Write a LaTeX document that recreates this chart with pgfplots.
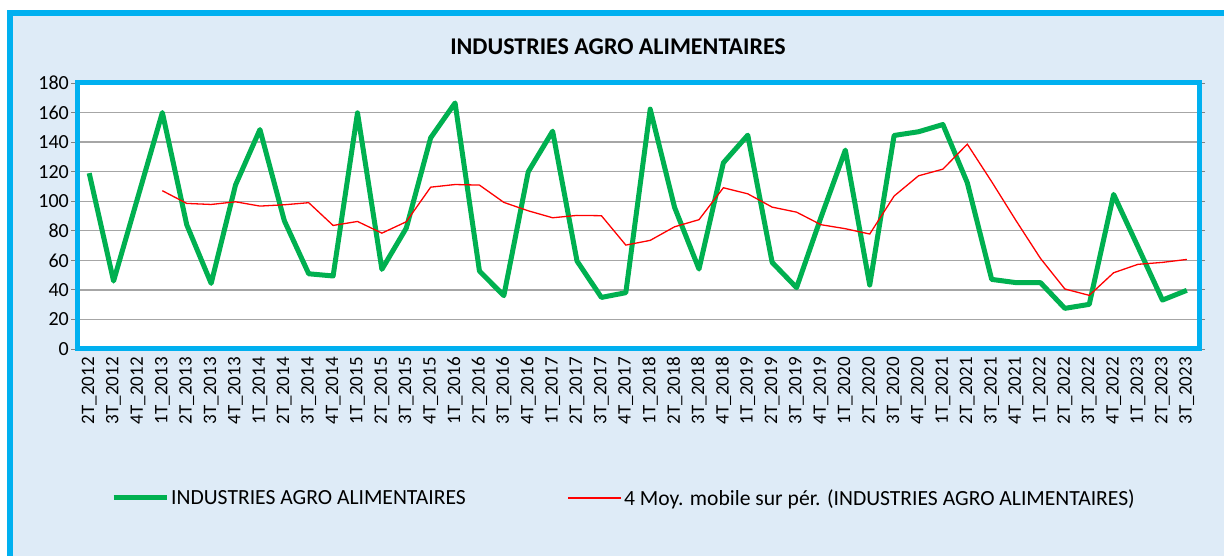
\documentclass[border=0pt]{standalone}
\usepackage{pgfplots}
\pgfplotsset{compat=1.18}
\usepackage{fontspec}
\setmainfont{Carlito}
\definecolor{bgblue}{HTML}{DEEBF7}
\definecolor{frame}{HTML}{00B0F0}
\definecolor{xlgreen}{HTML}{00B050}
\definecolor{gridgray}{HTML}{A6A6A6}
\begin{document}
\begin{tikzpicture}[x=1bp,y=1bp]
\useasboundingbox (0,0) rectangle (1224,556);
\fill[white] (0,0) rectangle (1224,556);
\fill[bgblue] (10.3,0) rectangle (1224,543);
\draw[frame,line width=6bp] (10.3,0) -- (10.3,543) -- (1224,543);
\node[font=\fontsize{24bp}{28bp}\selectfont\bfseries] at (618,509) {INDUSTRIES AGRO ALIMENTAIRES};
\begin{axis}[
  at={(77bp,207bp)}, anchor=south west,
  scale only axis, width=1122bp, height=266bp,
  xmin=-0.5, xmax=45.5, ymin=0, ymax=180,
  ytick={0,20,...,180},
  xtick={0,...,45},
  xticklabels={2T\_2012,3T\_2012,4T\_2012,1T\_2013,2T\_2013,3T\_2013,4T\_2013,1T\_2014,2T\_2014,3T\_2014,4T\_2014,1T\_2015,2T\_2015,3T\_2015,4T\_2015,1T\_2016,2T\_2016,3T\_2016,4T\_2016,1T\_2017,2T\_2017,3T\_2017,4T\_2017,1T\_2018,2T\_2018,3T\_2018,4T\_2018,1T\_2019,2T\_2019,3T\_2019,4T\_2019,1T\_2020,2T\_2020,3T\_2020,4T\_2020,1T\_2021,2T\_2021,3T\_2021,4T\_2021,1T\_2022,2T\_2022,3T\_2022,4T\_2022,1T\_2023,2T\_2023,3T\_2023},
  x tick label style={rotate=90, anchor=east, font=\fontsize{19bp}{22bp}\selectfont, inner sep=2bp},
  y tick label style={font=\fontsize{20bp}{24bp}\selectfont, inner sep=2bp},
  /pgf/number format/assume math mode=true,
  xtick style={draw=none},
  minor xtick={-0.5,0.5,...,45.5},
  minor tick length=6bp,
  major tick length=6bp,
  tick align=outside,
  ytick style={draw=gray, line width=0.8bp},
  minor tick style={draw=gray, line width=0.8bp},
  ymajorgrids, grid style={gridgray, line width=1.3bp},
  axis background/.style={fill=white},
  axis line style={draw=frame, line width=5bp},
  clip=false,
  legend style={at={(34bp,-149bp)}, anchor=west, draw=none, fill=none,
    font=\fontsize{21.6bp}{25bp}\selectfont, inner sep=0pt,
    /tikz/every even column/.append style={column sep=100bp},
    nodes={inner sep=2bp}},
  legend columns=2,
  legend image code/.code={\draw[#1] (0bp,0bp) -- (53bp,0bp);},
]
\addplot[xlgreen, line width=5bp, line join=round] coordinates {
(0,119) (1,46) (2,103) (3,160) (4,84) (5,44.4) (6,111) (7,148.5) (8,86.8) (9,50.9)
(10,49.4) (11,159.8) (12,53.9) (13,81.8) (14,142.9) (15,166.5) (16,52.7) (17,36.1) (18,119.9) (19,147.4)
(20,59.5) (21,34.9) (22,38.1) (23,162.3) (24,95.8) (25,54.1) (26,126) (27,144.7) (28,58.6) (29,41.5)
(30,89) (31,134.6) (32,43.3) (33,144.5) (34,147) (35,151.9) (36,112.5) (37,47.1) (38,44.9) (39,44.9)
(40,27.5) (41,30.2) (42,104.6) (43,69) (44,33.1) (45,39.7)
};
\addlegendentry{INDUSTRIES AGRO ALIMENTAIRES}
\addplot[red, line width=1.3bp] coordinates {
(3,107.1) (4,98.5) (5,97.8) (6,99.6) (7,96.7) (8,97.6) (9,99) (10,83.6) (11,86.3) (12,78.4)
(13,86.1) (14,109.5) (15,111.3) (16,110.9) (17,99.2) (18,93.5) (19,88.8) (20,90.4) (21,90.2) (22,70.3)
(23,73.5) (24,82.7) (25,87.5) (26,109.1) (27,105) (28,96) (29,92.6) (30,84.1) (31,81.4) (32,77.8)
(33,103.5) (34,117.2) (35,121.7) (36,138.6) (37,113.2) (38,86.8) (39,61.3) (40,40.6) (41,36.3) (42,51.6)
(43,57.3) (44,58.6) (45,60.6)
};
\addlegendentry{4 Moy. mobile sur pér. (INDUSTRIES AGRO ALIMENTAIRES)}
\end{axis}
\end{tikzpicture}
\end{document}
